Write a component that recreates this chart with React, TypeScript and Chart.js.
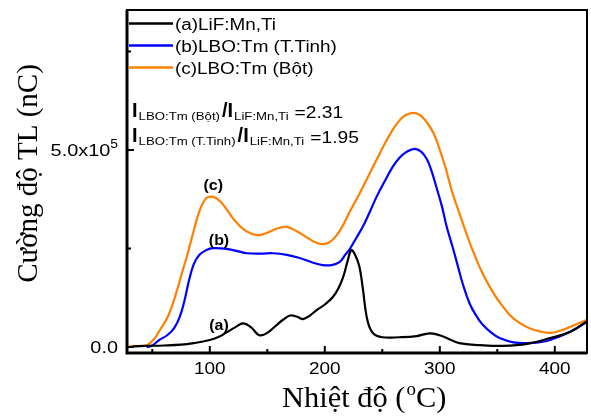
import React, { useEffect, useRef } from "react";
import { Chart, registerables } from "chart.js";

Chart.register(...registerables);

// ---- Data (temperature °C, TL intensity nC) ----
const tempA = [33, 45, 60, 75, 86, 100, 108, 115, 122, 129, 136, 143, 150, 157, 164, 170, 176, 181, 187, 193, 200, 207, 212, 216, 220, 223, 226, 230, 233, 237, 242, 250, 265, 280, 291, 300, 306, 317, 335, 355, 376, 396, 413, 428];
const tlA = [2000, 3000, 4000, 6000, 10000, 18000, 26000, 38000, 50000, 60000, 50000, 30000, 36000, 53000, 70000, 80000, 77000, 71000, 80000, 94000, 108000, 127000, 150000, 178000, 220000, 246000, 236000, 205000, 150000, 69000, 35000, 25000, 25000, 28000, 35000, 30000, 23000, 10000, 5000, 3000, 8000, 23000, 38000, 66000];

const tempB = [45, 50, 56, 63, 69, 74, 78, 82, 86, 91, 97, 103, 115, 126, 132, 145, 155, 167, 178, 188, 198, 206, 213, 218, 222, 228, 233, 239, 245, 252, 259, 265, 271, 278, 284, 289, 293, 297, 302, 306, 311, 315, 320, 326, 332, 337, 345, 352, 364, 376, 386, 396, 413, 428];
const tlB = [0, 4000, 18000, 30000, 48000, 78000, 118000, 170000, 210000, 234000, 246000, 251000, 249000, 242000, 238000, 237000, 238000, 234000, 226000, 216000, 208000, 208000, 216000, 235000, 250000, 280000, 305000, 342000, 381000, 420000, 457000, 480000, 495000, 503000, 495000, 475000, 445000, 406000, 355000, 305000, 255000, 213000, 160000, 110000, 78000, 58000, 36000, 23000, 12000, 10000, 12000, 18000, 38000, 64000];

const tempC = [30, 40, 46, 52, 58, 64, 70, 76, 81, 86, 91, 97, 103, 109, 115, 122, 130, 137, 143, 150, 160, 167, 175, 184, 192, 198, 204, 210, 216, 222, 230, 245, 252, 259, 265, 270, 277, 283, 289, 295, 300, 305, 311, 317, 323, 330, 337, 344, 350, 361, 370, 378, 387, 396, 405, 413, 428];
const tlC = [2000, 3000, 6000, 22000, 50000, 80000, 130000, 190000, 240000, 295000, 345000, 378000, 381000, 370000, 348000, 320000, 297000, 287000, 284000, 290000, 302000, 305000, 295000, 279000, 265000, 261000, 266000, 282000, 310000, 345000, 388000, 475000, 515000, 551000, 575000, 588000, 594000, 588000, 569000, 540000, 500000, 455000, 391000, 340000, 289000, 235000, 188000, 150000, 122000, 81000, 60000, 48000, 40000, 36000, 42000, 51000, 69000];

const seriesNames = ["(a)LiF:Mn,Ti", "(b)LBO:Tm (T.Tinh)", "(c)LBO:Tm (Bột)"];
const seriesColors = ["#000000", "#0000ff", "#ff8000"];
const curveLabels = ["(a)", "(b)", "(c)"];
const curveLabelX = [108, 108, 103];
const curveLabelY = [56000, 272000, 411000];

const xMajorTicks = [100, 200, 300, 400];
const xMinorTicks = [50, 150, 250, 350];
const yMajorTicks = [0, 500000];
const yMajorLabels = [
  { base: "0.0", exp: "" },
  { base: "5.0x10", exp: "5" },
];
const yMinorTicks = [250000, 750000];

const ratioRows = [
  { num: "LBO:Tm (Bột)", den: "LiF:Mn,Ti", value: "=2.31" },
  { num: "LBO:Tm (T.Tinh)", den: "LiF:Mn,Ti", value: "=1.95" },
];

const xTitleParts = ["Nhiệt độ (", "o", "C)"];
const yTitle = "Cường độ TL (nC)";

const SANS = '"Liberation Sans", Arial, sans-serif';
const SERIF = '"Liberation Serif", "Times New Roman", serif';

function txt(ctx: CanvasRenderingContext2D, s: string, x: number, y: number, font: string, sx: number, align: "left" | "right" | "center" = "left"): number {
  ctx.save();
  ctx.font = font;
  const w = ctx.measureText(s).width * sx;
  let x0 = x;
  if (align === "right") x0 = x - w;
  else if (align === "center") x0 = x - w / 2;
  ctx.translate(x0, y);
  ctx.scale(sx, 1);
  ctx.textAlign = "left";
  ctx.fillText(s, 0, 0);
  ctx.restore();
  return w;
}

const decorPlugin = {
  id: "decor",
  afterDraw(chart: any) {
    const ctx: CanvasRenderingContext2D = chart.ctx;
    const a = chart.chartArea;
    const xs = chart.scales.x;
    const ys = chart.scales.y;
    ctx.save();
    ctx.fillStyle = "#000";
    ctx.strokeStyle = "#000";
    ctx.textBaseline = "alphabetic";

    // frame
    ctx.lineWidth = 2;
    ctx.strokeRect(a.left, a.top, a.right - a.left, a.bottom - a.top);
    ctx.lineWidth = 3;
    ctx.beginPath();
    ctx.moveTo(a.left, a.top);
    ctx.lineTo(a.left, a.bottom);
    ctx.lineTo(a.right, a.bottom);
    ctx.stroke();

    // ticks (inward)
    ctx.lineWidth = 2;
    ctx.beginPath();
    xMajorTicks.forEach((v) => {
      const px = xs.getPixelForValue(v);
      ctx.moveTo(px, a.bottom);
      ctx.lineTo(px, a.bottom - 7);
    });
    xMinorTicks.forEach((v) => {
      const px = xs.getPixelForValue(v);
      ctx.moveTo(px, a.bottom);
      ctx.lineTo(px, a.bottom - 4);
    });
    yMajorTicks.forEach((v) => {
      const py = ys.getPixelForValue(v);
      ctx.moveTo(a.left, py);
      ctx.lineTo(a.left + 7, py);
    });
    yMinorTicks.forEach((v) => {
      const py = ys.getPixelForValue(v);
      ctx.moveTo(a.left, py);
      ctx.lineTo(a.left + 4, py);
    });
    ctx.stroke();

    // x tick labels
    xMajorTicks.forEach((v) => {
      const px = xs.getPixelForValue(v);
      txt(ctx, String(v), px, a.bottom + 21, `16.5px ${SANS}`, 1.15, "center");
    });
    // y tick labels
    yMajorTicks.forEach((v, i) => {
      const py = ys.getPixelForValue(v);
      const lab = yMajorLabels[i];
      const right = a.left - 9;
      if (lab.exp) {
        const we = txt(ctx, lab.exp, right, py - 2, `12px ${SANS}`, 1.15, "right");
        txt(ctx, lab.base, right - we, py + 6, `17px ${SANS}`, 1.17, "right");
      } else {
        txt(ctx, lab.base, right, py + 6, `17px ${SANS}`, 1.17, "right");
      }
    });

    // axis titles
    {
      let x = 282;
      const base = a.bottom + 54;
      x += txt(ctx, xTitleParts[0], x, base, `29px ${SERIF}`, 1.05);
      x += txt(ctx, xTitleParts[1], x + 1, base - 12, `18px ${SERIF}`, 1.05) + 1;
      txt(ctx, xTitleParts[2], x, base, `29px ${SERIF}`, 1.05);
    }
    {
      ctx.save();
      ctx.translate(37, (a.top + a.bottom) / 2 - 8);
      ctx.rotate(-Math.PI / 2);
      txt(ctx, yTitle, 0, 0, `29px ${SERIF}`, 1.0, "center");
      ctx.restore();
    }

    // legend
    seriesNames.forEach((name, i) => {
      const y = a.top + 13.5 + i * 22;
      ctx.strokeStyle = seriesColors[i];
      ctx.lineWidth = 2.5;
      ctx.beginPath();
      ctx.moveTo(a.left + 2, y);
      ctx.lineTo(a.left + 46, y);
      ctx.stroke();
      ctx.fillStyle = "#000";
      txt(ctx, name, a.left + 48, y + 6, `16px ${SANS}`, 1.18);
    });

    // ratio annotation
    ratioRows.forEach((r, i) => {
      const b = a.top + 107 + i * 25;
      let x = a.left + 5;
      x += txt(ctx, "I", x, b, `bold 20px ${SANS}`, 1.0);
      x += 1;
      x += txt(ctx, r.num, x, b + 3, `11px ${SANS}`, 1.2);
      x += 2;
      x += txt(ctx, "/I", x, b, `bold 20px ${SANS}`, 1.0);
      x += 1;
      x += txt(ctx, r.den, x, b + 3, `11px ${SANS}`, 1.2);
      x += 6;
      txt(ctx, r.value, x, b + 1, `16px ${SANS}`, 1.2);
    });

    // curve labels
    curveLabels.forEach((l, i) => {
      const px = xs.getPixelForValue(curveLabelX[i]);
      const py = ys.getPixelForValue(curveLabelY[i]);
      txt(ctx, l, px, py + 5, `bold 14.5px ${SANS}`, 1.1, "center");
    });

    ctx.restore();
  },
};

export default function App() {
  const ref = useRef<HTMLCanvasElement>(null);
  useEffect(() => {
    if (!ref.current) return;
    const mk = (t: number[], v: number[]) => t.map((x, i) => ({ x, y: v[i] }));
    const chart = new Chart(ref.current, {
      type: "line",
      data: {
        datasets: [
          { label: seriesNames[0], data: mk(tempA, tlA), borderColor: seriesColors[0] },
          { label: seriesNames[1], data: mk(tempB, tlB), borderColor: seriesColors[1] },
          { label: seriesNames[2], data: mk(tempC, tlC), borderColor: seriesColors[2] },
        ].map((d) => ({ ...d, borderWidth: 2.2, pointRadius: 0, fill: false, tension: 0.4 })),
      },
      options: {
        animation: false,
        responsive: true,
        maintainAspectRatio: false,
        layout: { padding: { left: 127, right: 4, top: 10, bottom: 63 } },
        plugins: { legend: { display: false }, tooltip: { enabled: false } },
        scales: {
          x: { type: "linear", min: 28, max: 428, display: false },
          y: { type: "linear", min: -15000, max: 855000, display: false },
        },
      },
      plugins: [decorPlugin],
    });
    return () => chart.destroy();
  }, []);
  return (
    <div style={{ position: "absolute", left: 0, top: 0, width: 591, height: 416, background: "#fff" }}>
      <canvas ref={ref} />
    </div>
  );
}
